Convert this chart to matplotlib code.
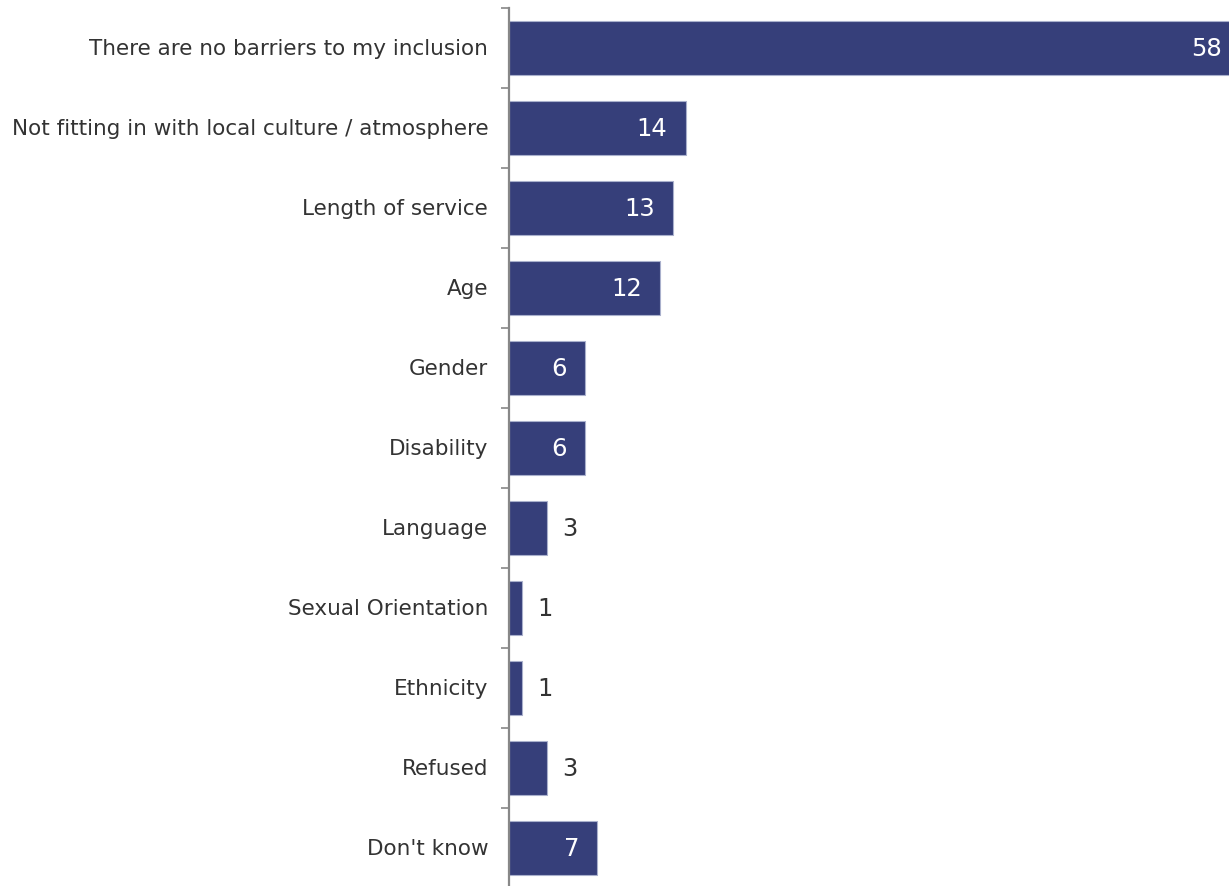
import matplotlib.pyplot as plt
import numpy as np

plt.rcParams['font.family'] = ['DejaVu Sans']

categories = ["There are no barriers to my inclusion",
              "Not fitting in with local culture / atmosphere",
              "Length of service", "Age", "Gender", "Disability", "Language",
              "Sexual Orientation", "Ethnicity", "Refused", "Don't know"]
values = [58, 14, 13, 12, 6, 6, 3, 1, 1, 3, 7]

bar_color = "#363f7a"
W, H = 1229, 887
fig = plt.figure(figsize=(W / 100, H / 100), dpi=100)
ax = fig.add_axes([509 / W, -2 / H, 1 - 509 / W, 880 / H])

y = np.arange(len(categories))
ax.barh(y, values, height=0.67, color=bar_color, edgecolor="#a9b0cc", linewidth=0.8)
ax.set_ylim(len(categories) - 0.5, -0.5)
ax.set_xlim(0, 57.1)

# value labels: white inside the longer bars, dark outside the short ones
for yi, v in zip(y, values):
    if v >= 6:
        ax.annotate(str(v), (v, yi), xytext=(-13, 0), textcoords="offset points",
                    ha="right", va="center", color="white", fontsize=17.5,
                    annotation_clip=False)
    else:
        ax.annotate(str(v), (v, yi), xytext=(11, 0), textcoords="offset points",
                    ha="left", va="center", color="#333333", fontsize=17.5)

# category labels
for yi, c in zip(y, categories):
    ax.annotate(c, (0, yi), xytext=(-15, 0), textcoords="offset points",
                ha="right", va="center", color="#333333", fontsize=15.5)

ax.set_yticks(np.arange(-0.5, len(categories), 1))
ax.set_yticklabels([])
ax.tick_params(axis="y", length=6, width=1.2, color="#888888", direction="out")
ax.set_xticks([])
for s in ["top", "right", "bottom"]:
    ax.spines[s].set_visible(False)
ax.spines["left"].set_color("#888888")
ax.spines["left"].set_linewidth(1.6)

fig.savefig("out.png", dpi=100)
